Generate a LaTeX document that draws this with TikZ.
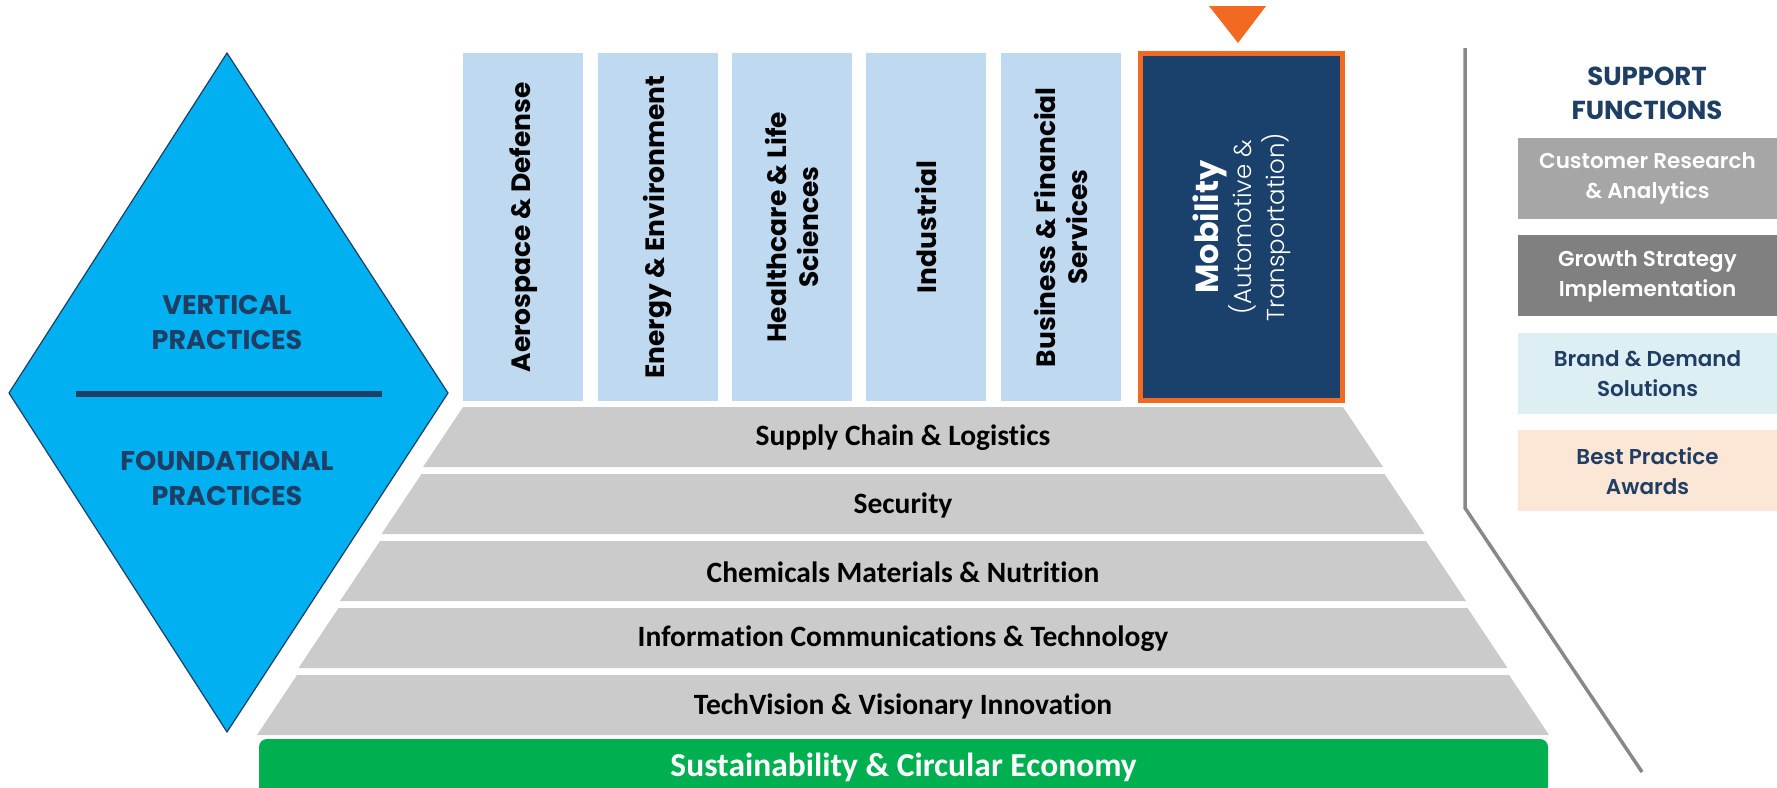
\documentclass[tikz,border=0pt]{standalone}
\usepackage{fontspec}
\setmainfont{Carlito}[Ligatures=NoCommon]
\newfontfamily\geofont{Poppins}
\newfontfamily\geolight{Poppins Light}
\newfontfamily\geosemi{Poppins SemiBold}
\usetikzlibrary{positioning}
\definecolor{practiceblue}{HTML}{BFD9F0}
\definecolor{mobilitynavy}{HTML}{1A416B}
\definecolor{mobilityorange}{HTML}{F26A21}
\definecolor{layergray}{HTML}{CBCBCB}
\definecolor{diamondblue}{HTML}{00B0F0}
\definecolor{textnavy}{HTML}{1F3E64}
\definecolor{circulargreen}{HTML}{00B050}
\definecolor{supportA}{HTML}{A6A6A6}
\definecolor{supportB}{HTML}{808080}
\definecolor{supportC}{HTML}{DEEFF4}
\definecolor{supportD}{HTML}{FCE6D6}
\definecolor{linegray}{HTML}{888888}
\tikzset{practice box/.style={fill=practiceblue,minimum width=120pt,minimum height=348pt,inner sep=0pt},
practice text/.style={rotate=90,align=center,font=\geofont\bfseries\fontsize{26.5}{32}\selectfont},
layer/.style={fill=layergray},
layer text/.style={font=\bfseries\fontsize{29.5}{32}\selectfont},
support box/.style={minimum width=259pt,minimum height=81pt,inner sep=0pt,align=center,font=\geosemi\fontsize{21.5}{30}\selectfont},
heading/.style={align=center,text=textnavy,font=\geofont\bfseries\fontsize{27}{35}\selectfont},
}

\begin{document}
\begin{tikzpicture}[x=1pt,y=-1pt]
				\useasboundingbox (0,0) rectangle (1777,787);
				
				% left diamond
				\path[fill=diamondblue,draw=textnavy,line width=1.2pt] (227,53) -- (448,393) -- (227,732) -- (9,393) -- cycle;
				\draw[textnavy,line width=6pt] (76,394) -- (382,394);
				\node[heading] (vertical) at (227,323) {VERTICAL\\PRACTICES};
				\node[heading] (foundational) at (227,478) {FOUNDATIONAL\\PRACTICES};
				
				% vertical practices
				\node[practice box,anchor=north west] (aero) at (463,53) {};
				\node[practice box] (energy) [right =14pt of aero] {};
				\node[practice box] (health) [right =14pt of energy] {};
				\node[practice box] (industrial) [right =14pt of health] {};
				\node[practice box] (business) [right =14pt of industrial] {};
				\node[practice box,fill=mobilitynavy,draw=mobilityorange,line width=5pt,minimum width=202pt,minimum height=347pt] (mobility) [right =17pt of business] {};
				
				\node[practice text] (aero text) at (aero) {Aerospace \& Defense};
				\node[practice text] (energy text) at (energy) {Energy \& Environment};
				\node[practice text] (health text) at (health) {Healthcare \& Life\\Sciences};
				\node[practice text] (industrial text) at (industrial) {Industrial};
				\node[practice text] (business text) at (business) {Business \& Financial\\Services};
				\node[practice text,text=white,font=\geolight\fontsize{24.5}{33}\selectfont] (mobility text) at (mobility) {{\geofont\bfseries\fontsize{32}{35}\selectfont Mobility}\\(Automotive \&\\Transportation)};
				\fill[mobilityorange] (1209,6) -- (1266,6) -- (1238,43) -- cycle;
				
				% foundational practices
				\foreach \txt [count=\i from 0] in {Supply Chain \& Logistics,Security,Chemicals Materials \& Nutrition,Information Communications \& Technology,TechVision \& Visionary Innovation}{
					\pgfmathsetmacro\ltop{407+67*\i}
					\pgfmathsetmacro\lhalf{440+41.5*\i}
					\path[layer] (903-\lhalf,\ltop) -- (903+\lhalf,\ltop) -- (943+\lhalf,\ltop+60) -- (863-\lhalf,\ltop+60) -- cycle;
					\node[layer text] (layer\i) at (903,\ltop+31) {\txt};
				}
				\node[fill=circulargreen,rounded corners=8pt,minimum width=1289pt,minimum height=56pt,text=white,font=\bfseries\fontsize{33.5}{36}\selectfont] (circular) at (903.5,767) {Sustainability \& Circular Economy};
				
				% support functions
				\draw[linegray,line width=3.5pt] (1465,48) -- (1465,508) -- (1642,772);
				\node[heading,font=\geofont\bfseries\fontsize{26}{34}\selectfont] (support) at (1647,93) {SUPPORT\\FUNCTIONS};
				\node[support box,fill=supportA,text=white] (research) at (1647.5,178.5) {Customer Research\\\& Analytics};
				\node[support box,fill=supportB,text=white] (growth) [below =16pt of research] {Growth Strategy\\Implementation};
				\node[support box,fill=supportC,text=textnavy] (brand) [below =16pt of growth] {Brand \& Demand\\Solutions};
				\node[support box,fill=supportD,text=textnavy] (awards) [below =16pt of brand] {Best Practice\\Awards};
				
			\end{tikzpicture}
\end{document}
